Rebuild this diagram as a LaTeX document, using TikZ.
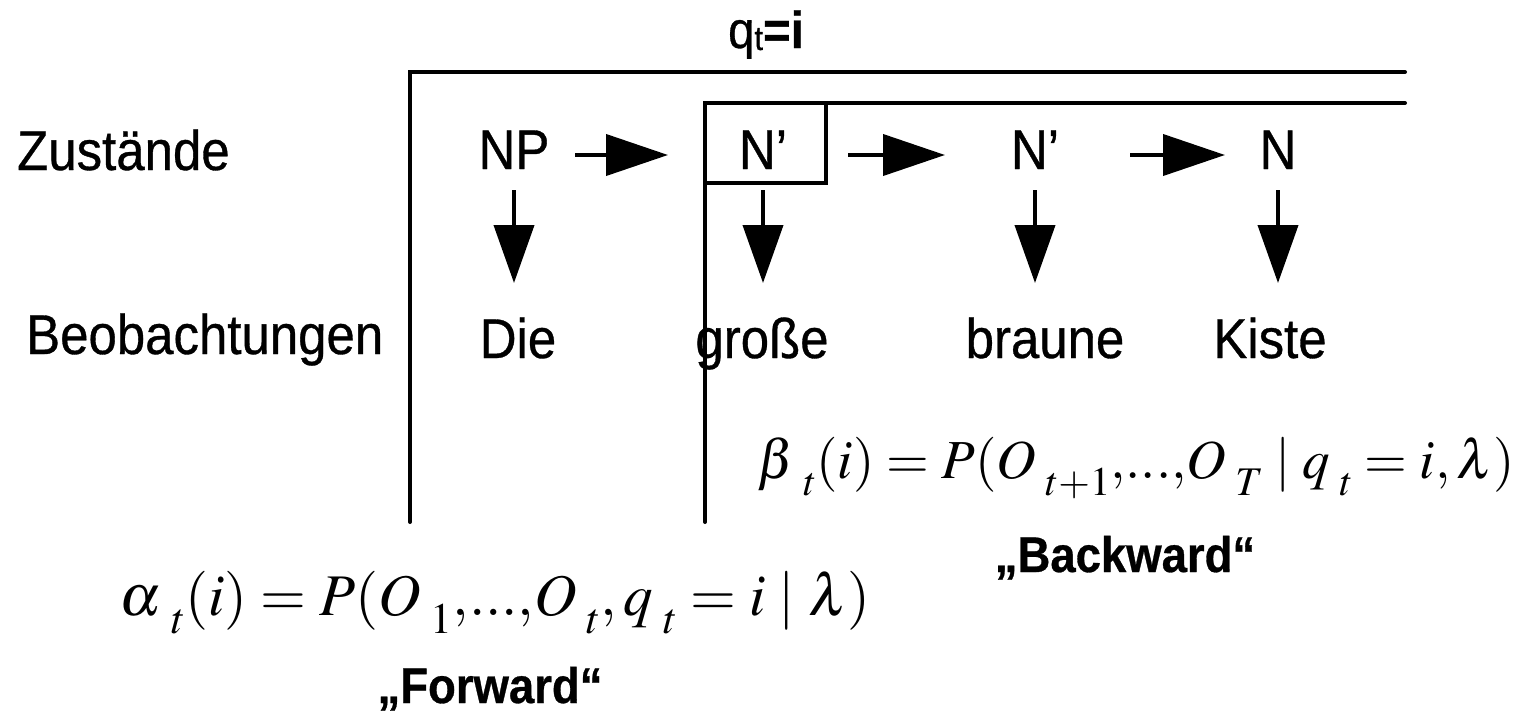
\documentclass[tikz,border=0pt]{standalone}
\usepackage{mathptmx}
\usepackage{fontspec}
\setmainfont{Liberation Sans}[FakeStretch=0.91, FakeBold=0.6]
\usetikzlibrary{arrows.meta}
% closely set ellipsis between commas
\newcommand{\tightdots}{{,}{.}{.}{.}{,}}
% symbol with a detached, low-set subscript
\newcommand{\sep}[2]{#1\mkern3mu\raisebox{-0.32em}{$\scriptstyle #2$}}
\begin{document}
\begin{tikzpicture}[x=1pt,y=-1pt,
  lbl/.style={font=\fontsize{56}{68}\selectfont, inner sep=0pt, anchor=base},
  quote/.style={font=\fontsize{50}{60}\selectfont\bfseries, inner sep=0pt, anchor=base},
  formula/.style={inner sep=0pt, anchor=base},
  bracket/.style={line width=4pt, line cap=round},
  harr/.style={line width=4pt, -{Triangle[length=62pt,width=41pt]}},
  varr/.style={line width=4pt, -{Triangle[length=58pt,width=40pt]}}]
\useasboundingbox (0,0) rectangle (1513,723);

% time index above the brackets
\node[font=\fontsize{52}{60}\selectfont, inner sep=0pt, anchor=base] (qt) at (766,48)
  {q{\fontsize{34}{34}\selectfont\raisebox{-2pt}{t}}\textbf{=i}};

% forward and backward brackets
\draw[bracket] (1405,72) -- (410,72) -- (410,522);
\draw[bracket] (1405,103) -- (705,103) -- (705,522);
\draw[line width=3.5pt] (705,103) rectangle (826,183);

% row labels
\node[lbl, anchor=base west] (zust) at (17,170) {Zustände};
\node[lbl, anchor=base west] (beob) at (26,354) {Beobachtungen};

% states
\node[lbl] (s1) at (514,169) {NP};
\node[lbl] (s2) at (763,169) {N'};
\node[lbl] (s3) at (1035,169) {N'};
\node[lbl] (s4) at (1278,169) {N};

% observations
\node[lbl] (o1) at (518,358) {Die};
\node[lbl] (o2) at (762,358) {große};
\node[lbl] (o3) at (1045,358) {braune};
\node[lbl] (o4) at (1270,358) {Kiste};

% transitions
\draw[harr, shorten <=61pt, shorten >=95pt] ([yshift=14pt]s1.base) -- ([yshift=14pt]s2.base);
\draw[harr, shorten <=85pt, shorten >=90pt] ([yshift=14pt]s2.base) -- ([yshift=14pt]s3.base);
\draw[harr, shorten <=95pt, shorten >=53pt] ([yshift=14pt]s3.base) -- ([yshift=14pt]s4.base);

% emissions
\draw[varr, shorten <=21pt, shorten >=75pt] (s1.base) -- (s1.base |- o1.base);
\draw[varr, shorten <=21pt, shorten >=75pt] (s2.base) -- (s2.base |- o2.base);
\draw[varr, shorten <=21pt, shorten >=75pt] (s3.base) -- (s3.base |- o3.base);
\draw[varr, shorten <=21pt, shorten >=75pt] (s4.base) -- (s4.base |- o4.base);

% formulas
\node[formula, font=\fontsize{55}{66}\selectfont] (beta) at (1136,478)
  {$\sep{\beta}{t}(i) = P(\sep{O}{t+1}\tightdots \sep{O}{T} \mid \sep{q}{t} = i,\lambda)$};
\node[quote] (bw) at (1125,572) {„Backward“};
\node[formula, font=\fontsize{59}{70}\selectfont] (alpha) at (495,615)
  {$\sep{\alpha}{t}(i) = P(\sep{O}{1}\tightdots \sep{O}{t}, \sep{q}{t} = i \mid \lambda)$};
\node[quote] (fw) at (490,703) {„Forward“};
\end{tikzpicture}
\end{document}
